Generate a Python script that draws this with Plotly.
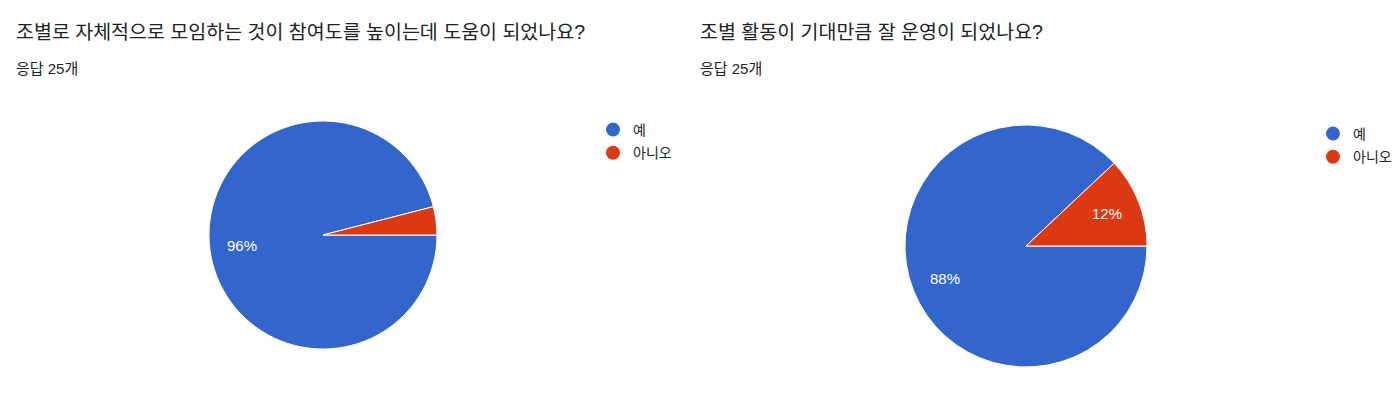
import math
import plotly.graph_objects as go

# figure size (browser page adds an 8px body margin)
O = 8
W, H = 1400 - O, 403 - O

labels = ["예", "아니오"]
values_left = [24, 1]
values_right = [22, 3]
titles = ["조별로 자체적으로 모임하는 것이 참여도를 높이는데 도움이 되었나요?",
          "조별 활동이 기대만큼 잘 운영이 되었나요?"]
subtitle = "응답 25개"
colors = ["#3366cc", "#dc3912"]

KR = "'Liberation Sans', Arial, 'Noto Sans CJK KR', sans-serif"


def xp(x):
    return (x - O) / W


def yp(y):
    return 1 - (y - O) / H


def dom(cx, cy, r):
    return dict(x=[xp(cx - r), xp(cx + r)], y=[yp(cy + r), yp(cy - r)])


pies = [(values_left, 323, 235, 114), (values_right, 1026, 246, 121)]

fig = go.Figure()
annots = []
for vals, cx, cy, r in pies:
    fig.add_trace(go.Pie(labels=labels, values=vals, textinfo="none",
                         sort=False, direction="clockwise", rotation=90,
                         marker=dict(colors=colors, line=dict(color="white", width=1)),
                         domain=dom(cx, cy, r), showlegend=False, hoverinfo="label+percent"))
    # percentage labels placed at the middle angle of each slice (Google Charts style)
    total = sum(vals)
    cum = 0
    for v in vals:
        frac = v / total
        mid = (cum + frac / 2) * 2 * math.pi  # clockwise from 3 o'clock
        cum += frac
        if frac < 0.05:
            continue
        lx = cx + 0.72 * r * math.cos(mid)
        ly = cy + 0.72 * r * math.sin(mid)
        annots.append(dict(x=xp(lx), y=yp(ly), xref="paper", yref="paper",
                           text=f"{round(frac * 100)}%", showarrow=False,
                           xanchor="center", yanchor="middle",
                           font=dict(size=15, family=KR, color="white")))

for lg in ["legend", "legend2"]:
    for lab, c in zip(labels, colors):
        fig.add_trace(go.Scatter(x=[None], y=[None], mode="markers", name=lab,
                                 marker=dict(color=c, size=14, symbol="circle"),
                                 legend=lg, legendgroup=lg + lab, showlegend=True))

leg_common = dict(font=dict(size=14, family=KR, color="#222222"), bgcolor="rgba(0,0,0,0)",
                  itemwidth=30, tracegroupgap=2, xanchor="left", yanchor="top",
                  itemclick=False, itemdoubleclick=False)
fig.update_layout(
    legend=dict(x=xp(593), y=yp(114), **leg_common),
    legend2=dict(x=xp(1313), y=yp(118), **leg_common),
)

for tx, t in zip([16, 700], titles):
    annots.append(dict(x=xp(tx - 2), y=yp(32), xref="paper", yref="paper", text=t,
                       showarrow=False, xanchor="left", yanchor="middle",
                       font=dict(size=19.5, family=KR, color="#202124")))
    annots.append(dict(x=xp(tx - 2), y=yp(68), xref="paper", yref="paper", text=subtitle,
                       showarrow=False, xanchor="left", yanchor="middle",
                       font=dict(size=15, family=KR, color="#202124")))

fig.update_layout(
    width=W, height=H, margin=dict(l=0, r=0, t=0, b=0),
    paper_bgcolor="white", plot_bgcolor="white",
    annotations=annots,
    xaxis=dict(visible=False), yaxis=dict(visible=False),
)

fig.write_html("out.html")
